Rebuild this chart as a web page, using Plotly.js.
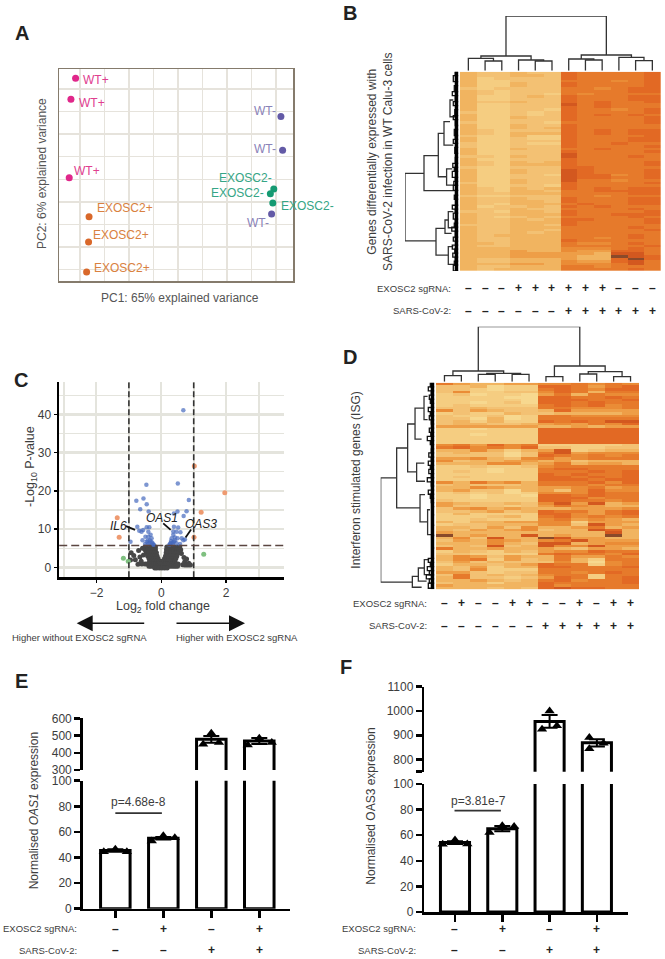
<!DOCTYPE html>
<html>
<head>
<meta charset="utf-8">
<script src="https://cdn.plot.ly/plotly-3.0.1.min.js"></script>
<style>body{margin:0;background:#fff}</style>
</head>
<body>
<div id="fig" style="width:665px;height:959px"></div>
<script>
var W = 665, H = 959;
var FONT = 'Liberation Sans, Arial, sans-serif';
var TXT = '#3c3c3c';

// Panel A, PCA scores (grid units, the original has no tick labels)
var wtPlusX = [-4.18, -4.37, -4.44];
var wtPlusY = [4.48, 3.55, 0.07];
var koPlusX = [-3.63, -3.65, -3.73];
var koPlusY = [-1.66, -2.78, -4.11];
var wtMinusX = [4.2, 4.27, 3.82];
var wtMinusY = [2.78, 1.29, -1.54];
var koMinusX = [3.91, 3.77, 3.87];
var koMinusY = [-0.43, -0.64, -1.05];
var pcaLabels = ['WT+', 'WT+', 'WT+', 'EXOSC2+', 'EXOSC2+', 'EXOSC2+', 'WT-', 'WT-', 'WT-', 'EXOSC2-', 'EXOSC2-', 'EXOSC2-'];
var pcaLabelX = [-3.95, -4.11, -4.32, -3.40, -3.55, -3.52, 3.02, 3.03, 2.72, 1.61, 1.28, 4.14];
var pcaLabelY = [4.41, 3.37, 0.35, -1.26, -2.46, -3.92, 3.04, 1.33, -1.95, 0.04, -0.61, -1.19];
var pcaLabelColor = ['#e0408f', '#e0408f', '#e0408f', '#d98140', '#d98140', '#d98140', '#8a82b8', '#8a82b8', '#8a82b8', '#35a585', '#35a585', '#35a585'];

// Panel B, expression levels (0 light .. 9 dark)
var heatB = [
  [3,2,2,3,2,2,7,6,6,6,6,7],[3,2,2,3,3,2,7,6,6,6,6,7],[3,1,2,2,2,2,7,6,6,6,6,7],[3,1,1,2,2,2,6,6,6,5,6,7],
  [3,1,1,3,2,2,7,6,6,6,6,7],[3,1,1,3,2,2,7,6,6,6,6,7],[2,1,2,2,2,2,6,6,5,6,7,7],[3,2,1,2,2,2,6,6,6,6,7,7],
  [3,2,1,2,2,1,6,5,6,6,6,6],[3,1,1,2,3,2,7,6,6,6,7,7],[3,1,1,2,2,2,7,6,6,6,7,7],[3,2,2,3,2,2,7,6,7,6,6,7],
  [3,1,1,2,2,2,8,6,7,6,6,6],[3,1,1,2,2,2,7,6,7,6,6,6],[3,1,1,2,2,1,7,6,6,5,6,7],[2,1,1,2,1,2,7,6,6,6,6,7],
  [3,1,1,2,1,2,7,6,7,6,7,6],[3,1,1,3,2,2,7,6,6,6,6,7],[3,1,1,2,2,2,7,6,6,6,6,7],[2,1,1,2,2,1,6,6,6,6,6,7],
  [3,1,1,3,2,2,7,6,6,6,6,6],[3,1,1,3,2,3,7,6,6,6,6,6],[3,2,1,2,2,2,7,6,7,6,7,7],[3,2,1,3,3,3,7,6,7,6,7,7],
  [2,1,1,3,1,1,7,6,6,6,6,7],[3,1,1,2,1,1,7,6,6,6,7,7],[3,1,1,2,2,2,7,6,6,6,7,7],[2,1,1,2,1,1,7,6,6,7,6,6],
  [2,1,1,2,2,2,7,6,6,6,6,7],[3,1,1,3,2,2,6,6,7,6,6,6],[3,1,1,2,2,2,7,6,6,6,6,7],[3,1,1,2,2,2,8,6,6,6,6,6],
  [2,2,1,3,2,2,8,6,6,6,7,6],[3,1,1,2,2,2,7,6,6,6,6,6],[3,2,1,3,2,3,7,6,6,6,6,7],[3,2,1,3,3,3,7,6,6,6,6,7],
  [2,1,1,2,2,2,7,7,6,6,6,6],[3,1,1,3,2,2,8,7,6,6,6,7],[3,1,1,3,2,2,8,7,6,6,6,7],[3,1,1,2,2,1,8,7,7,5,6,7],
  [3,1,1,2,2,2,8,7,7,6,6,7],[3,1,1,3,2,2,8,6,6,5,6,6],[2,1,1,3,2,2,7,6,6,6,6,7],[3,1,1,2,2,1,7,6,6,6,6,6],
  [3,2,1,3,2,3,7,6,7,6,7,7],[3,2,1,3,3,2,6,6,7,7,7,7],[3,2,2,3,3,3,6,6,6,6,7,7],[2,1,1,2,2,2,6,6,5,6,6,6],
  [3,2,2,3,2,2,7,6,6,6,7,7],[3,2,2,3,3,2,7,6,6,6,7,7],[3,2,1,3,3,3,6,7,6,6,7,7],[3,1,2,2,3,2,7,6,7,6,6,6],
  [3,2,2,3,2,2,6,6,6,6,7,6],[2,2,1,3,3,2,7,6,6,6,6,7],[3,2,2,3,3,3,7,6,6,7,7,7],[3,2,1,2,3,2,6,6,6,6,7,6],
  [3,2,2,3,2,3,7,7,6,6,6,7],[3,2,2,3,3,3,7,6,6,6,6,7],[2,2,2,3,3,2,7,6,6,6,6,6],[3,2,2,3,3,3,6,6,6,6,7,6],
  [3,2,2,3,3,2,6,6,6,6,6,7],[3,2,2,3,2,3,6,6,6,6,6,6],[3,2,3,3,3,3,6,6,6,6,7,6],[3,2,2,3,3,3,6,6,5,6,7,6],
  [3,2,2,3,3,3,7,6,6,6,6,6],[3,3,2,3,3,3,6,5,5,6,7,6],[3,2,2,3,3,3,6,6,6,6,6,7],[3,3,3,3,3,3,5,5,5,6,7,6],
  [3,3,3,4,3,3,5,4,4,7,7,6],[3,3,3,4,4,4,4,4,3,8,8,6],[3,3,3,4,4,4,4,3,3,9,8,7],[3,2,2,3,3,3,4,3,3,7,9,7],
  [3,2,2,3,3,3,5,4,4,7,8,6],[3,3,3,4,4,3,5,5,5,6,8,6],[3,2,2,3,3,3,6,6,5,6,6,6],[3,2,3,3,3,3,6,6,6,6,7,6]
];
var bSgRna = ['–','–','–','+','+','+','+','+','+','–','–','–'];
var bVirus = ['–','–','–','–','–','–','+','+','+','+','+','+'];
// dendrogram merges: first child, second child, first height, second height, merge height
var bTopTree = [
  [1,2,0,0,9.7],[0,1.5,0,9.7,12.3],[4,5,0,0,9.7],[3,4.5,0,9.7,10.7],[0.75,3.75,12.3,10.7,14.7],
  [7,8,0,0,10.7],[6,7.5,0,10.7,11.7],[10,11,0,0,10],[9,10.5,0,10,13.3],[6.75,9.75,11.7,13.3,15.7],
  [2.25,8.25,14.7,15.7,54.7]
];
var bLeftTree = [
  [51,84.9,34.3,22.3,53.3],[42.1,59.7,20,0,34.3],[30.9,52.7,14.3,11.7,20],[25.1,36.8,8.3,5,14.3],
  [14.2,22.6,5,3.3,8.3],[48.8,56.9,6,4,11.7],[78.6,92,13.3,10,22.3],[74.4,81.1,10,6.7,13.3],
  [70.2,78.3,5,3,10],[87.8,96.7,5,4,10]
];
var bTwigs = [
  [0,2,3],[2,5,5],[5,7,2.5],[7,10,4],[10,12,6],[12,15,3],[15,17,5],[17,19,2.5],[19,22,3.5],[22,24,5],[24,27,3],
  [27,29,2],[29,32,4],[32,34,3],[34,36,5],[36,38,2.5],[38,41,3.5],[41,43,2],[43,46,3],[46,48,5.5],[48,50,4],
  [50,53,6],[53,55,3],[55,57,4.5],[57,59.5,5],[59.5,62,2],[62,64,4],[64,67,2.5],[67,69,6],[69,71,3],[71,74,5],
  [74,76,3],[76,78,4],[78,80,6.5],[80,83,3],[83,85,5],[85,87,2.5],[87,89,6],[89,91,3.5],[91,93,5.5],[93,95,3],
  [95,97,4],[97,100,5]
];

// Panel C, volcano points
var greyX = [-.5,-.42,-.34,-.26,-.18,.17,.25,.33,.41,.49,.57,
  -.5,-.42,-.34,-.26,-.18,.16,.24,.32,.4,.48,.56,
  -.46,-.38,-.3,-.22,-.15,.15,.22,.3,.38,.46,.53,
  -.42,-.34,-.27,-.2,-.13,.13,.2,.27,.34,.41,.48,
  -.38,-.31,-.24,-.17,-.1,.1,.17,.24,.31,.38,.45,
  -.36,-.29,-.22,-.15,-.08,-.01,.07,.14,.21,.28,.35,.42,
  -.5,-.44,-.38,-.31,-.24,-.17,-.1,-.03,.04,.11,.18,.25,.32,.39,.46,.52,
  -.38,-.32,-.25,-.18,-.11,-.04,.03,.1,.17,.24,.31,.38,.44,.5,
  -.2,-.14,-.06,.02,.1,.18,
  -.93,-.8,-.85,-.95,-.66,-.55,-.7,-.62,.7,.72,.78,.66,.72,.78,.84,.9,.85,.62,.6,-.58,-.6,-.72];
var greyY = [5.3,5.3,5.3,5.3,5.3,5.3,5.3,5.3,5.3,5.3,5.3,
  4.6,4.6,4.6,4.6,4.6,4.6,4.6,4.6,4.6,4.6,4.6,
  3.8,3.8,3.8,3.8,3.8,3.8,3.8,3.8,3.8,3.8,3.8,
  3,3,3,3,3,3,3,3,3,3,3,
  2.3,2.3,2.3,2.3,2.3,2.3,2.3,2.3,2.3,2.3,2.3,
  1.6,1.6,1.6,1.6,1.6,1.6,1.6,1.6,1.6,1.6,1.6,1.6,
  .9,.9,.9,.9,.9,.9,.9,.9,.9,.9,.9,.9,.9,.9,.9,.9,
  .3,.3,.3,.3,.3,.3,.3,.3,.3,.3,.3,.3,.3,.3,
  -.2,-.2,-.2,-.2,-.2,-.2,
  3.8,2,3.1,1.9,2.7,3.2,4.4,1.6,2.6,1.4,2.2,.7,.6,.6,.6,.6,1.1,3.6,4.6,5,.9,.8];
var blueX = [.68,.51,-.46,-.55,-.77,-.45,-.65,-.39,.85,.5,.39,.78,.69,-.74,-.68,-.61,-.95,-.45,-.37,-.56,-.4,
  -.49,-.4,-.33,-.58,-.45,-.35,-.27,-.4,-.5,-.3,-.23,.39,.52,.59,.37,.47,.63,.5,.68,.37,.32,.42,.29,.39,.47,.58,.35,.25,.73,
  -.42,-.36,-.3,-.25,.3,.35,.27,.42];
var blueY = [41.1,21.9,21.6,18,17.4,16.5,15.2,14.6,17.6,14.6,14.1,14.7,13.4,10.6,9.6,9.3,6.7,10.5,10.5,9.8,9.3,
  8,8,8.5,7.1,6.7,7,6.3,6.1,6.1,7.6,5.9,10.6,10.4,9.2,9.4,9.3,7.6,7.6,7.1,8.5,7.6,7.8,6.4,6.7,6.3,6.1,6.1,5.9,7.3,
  7,6.4,6.6,6,6.9,6.5,6.1,7];
var orangeX = [1.02, 1.96, 1.23, -1.36, -1.3, 1.01];
var orangeY = [26.5, 19.5, 14.4, 13, 7.9, 7.9];
var greenX = [-1.17, -1.02, 1.31];
var greenY = [2.4, 1.6, 3.4];
var foldCut = [-1, 1];
var pCut = 5.7;
var geneNames = ['IL6', 'OAS1', 'OAS3'];
var geneX = [-1.33, 0.03, 1.21];
var geneY = [10.8, 12.8, 11.4];
var leaderX = [-1.09, -0.81, null, 0.06, 0.29, null, 0.92, 0.75];
var leaderY = [10.8, 9.8, null, 11.5, 9.8, null, 9.9, 7.8];

// Panel D
var heatD = [
  [6,4,3,3,4,4,5,5,6,5,6,5],[2,2,3,0,1,1,7,7,6,4,6,7],[2,2,1,0,1,1,6,7,6,5,7,7],[2,5,1,1,2,2,5,7,6,3,6,6],
  [1,2,0,1,1,0,4,6,3,6,5,5],[1,1,1,1,0,0,7,7,6,6,7,6],[1,1,1,1,1,0,7,7,7,6,6,7],[1,1,0,1,2,0,7,7,6,7,6,6],
  [1,2,1,1,1,1,6,7,6,7,5,6],[2,2,3,2,2,2,6,6,5,5,5,6],[5,2,4,3,2,2,3,7,4,4,4,4],[1,2,1,1,3,2,2,3,3,3,3,4],
  [2,1,1,2,0,1,6,6,5,5,5,5],[2,2,0,3,0,1,6,6,6,6,6,6],[2,3,1,3,1,1,7,6,7,6,8,8],[2,3,3,2,2,3,4,5,4,6,5,7],
  [4,4,4,4,4,4,3,3,4,3,4,4],[1,1,0,1,1,1,7,7,7,7,7,7],[1,1,1,1,1,1,7,7,7,7,7,7],[1,1,0,1,1,1,7,7,7,7,7,7],
  [1,1,1,1,1,1,7,7,7,7,7,7],[1,1,1,1,1,1,7,7,7,7,7,7],[1,1,1,1,1,1,7,7,7,7,7,7],[5,6,4,7,5,6,1,1,1,1,1,2],
  [6,7,5,6,5,7,2,2,1,1,2,2],[3,3,5,3,1,3,4,8,1,2,3,3],[2,3,2,2,0,2,6,8,4,5,5,5],[2,2,2,2,0,2,7,6,5,6,5,6],
  [4,4,5,3,2,5,6,4,5,6,6,6],[5,2,3,3,4,4,3,4,2,3,3,3],[3,3,3,5,5,3,4,6,3,4,4,3],[1,1,2,1,1,2,5,6,6,6,6,6],
  [1,1,1,0,1,1,6,7,7,6,6,6],[1,2,1,0,1,1,6,6,6,7,6,7],[1,1,1,1,1,1,7,6,7,6,6,7],[1,2,1,1,1,1,7,7,6,7,6,7],
  [1,1,1,1,1,1,7,7,7,6,7,7],[5,3,6,4,5,3,6,6,6,7,5,7],[2,3,2,2,2,3,6,6,6,5,6,6],[3,3,5,4,3,3,4,4,5,6,4,5],
  [3,4,2,2,0,3,4,2,5,7,5,5],[1,2,1,2,0,1,5,5,5,7,6,6],[1,1,0,1,1,0,7,7,6,7,6,6],[1,1,0,1,1,1,7,7,7,5,6,6],
  [2,1,1,1,1,1,7,7,6,6,5,6],[4,3,2,2,3,2,5,8,4,8,3,4],[4,2,2,2,1,2,4,6,5,4,3,3],[2,4,5,3,4,3,3,3,4,4,4,5],
  [2,2,3,4,2,3,7,6,6,4,6,7],[1,3,1,1,1,1,7,7,5,4,6,7],[1,1,1,2,3,1,6,7,5,6,5,6],[1,1,2,1,1,1,5,6,4,5,4,3],
  [3,1,3,3,4,4,5,5,1,4,4,4],[1,2,2,3,3,3,5,5,2,8,4,3],[3,3,2,4,2,5,3,3,4,6,3,4],[3,2,4,3,4,5,2,3,3,8,7,3],
  [4,3,3,3,3,3,3,3,3,3,8,3],[9,3,4,3,3,8,3,4,3,3,9,3],[3,5,2,8,3,3,9,8,4,4,3,3],[2,4,3,5,4,3,5,6,8,4,4,4],
  [3,3,3,5,3,2,8,8,3,4,5,5],[2,3,2,8,2,3,8,5,5,8,4,4],[6,3,3,4,3,3,4,3,2,4,4,3],[1,3,2,1,3,2,4,5,5,7,6,6],
  [2,2,1,1,1,1,6,7,6,6,5,7],[3,5,4,2,4,3,3,6,4,4,6,5],[3,5,6,1,4,2,3,6,3,1,6,6],[2,4,2,3,2,2,2,5,3,0,5,6],
  [1,3,3,2,3,4,7,6,6,1,5,6],[3,2,4,1,3,3,7,7,6,6,6,7],[3,2,5,1,1,1,6,6,6,6,6,6],[4,4,2,1,2,2,6,6,5,6,7,6],
  [2,6,2,3,2,3,5,6,6,1,6,6],[3,6,2,2,1,2,4,7,6,1,6,7],[3,3,4,3,2,3,6,7,5,6,6,7],[2,3,3,1,3,3,7,6,6,6,6,7],
  [4,3,3,3,3,3,7,5,6,6,6,6],[3,3,3,2,3,2,7,8,7,7,6,6]
];
var dSgRna = ['–','+','–','–','+','+','–','–','+','–','+','+'];
var dVirus = ['–','–','–','–','–','–','+','+','+','+','+','+'];
var dTopTree = [
  [0,1,0,0,6],[2,3,0,0,7.3],[4,5,0,0,7.3],[2.5,4.5,7.3,7.3,8.3],[0.5,3.5,6,8.3,10.7],
  [6,7,0,0,5],[8,9,0,0,7.7],[10,11,0,0,5],[8.5,10.5,7.7,5,10],[6.5,9.5,5,10,15.7],[2,8,10.7,15.7,55]
];
var dLeftTree = [
  [46.1,96.5,37.7,22,53.7],[31.6,60.6,26.7,14.3,37.7],[20,43.2,19.3,17.7,26.7],[12.3,27.3,10.3,12.7,19.3],
  [6.6,17.9,6.7,6.7,10.3],[38.9,47.7,10,9.3,17.7],[54.2,67.4,9.3,6.7,14.3],[61.5,73.5,4.3,0,6.7],
  [93.7,99,16,12.7,22],[89.7,96,10,7.7,16],[85.6,92.9,5,5,10]
];
var dTwigs = [
  [0,2,4],[2,4,6],[4,6,3],[6,8,5],[8,10,4],[10,12,2.5],[12,14,6],[14,16,4],[16,18,5],[18,20,3],[20,22,2.5],
  [22,24,5],[24,26,3.5],[26,28,7],[28,30,4],[30,32,2],[32,34,3],[34,36,5.5],[36,38,3],[38,40,6],[40,42,4],
  [42,44,5.5],[44,46,3],[46,48,7],[48,50,3],[50,52,2],[52,54,6],[54,56,4],[56,58,3],[58,60,2],[60,64,2.5],
  [64,69,2],[69,74,2],[74,80,1.5],[80,85,1.5],[85,87,6],[87,89,4],[89,91,7],[91,93,5],[93,95,8],[95,97,5],[97,99.5,6]
];

// Panels E and F, normalised expression
var barCats = [0, 1, 2, 3];
var eMeans = [45.5, 55, 478, 468];
var eErr = [1, 1, 20, 17];
var ePointX = [-.24,0,.24, .76,1,1.24, 1.83,2,2.16, 2.76,3,3.26];
var ePointY = [44.5,46.4,44.5, 52.9,57,55.5, 449,513,459, 445,484,459];
var eSigX = [0, 0.97];
var eSigY = [74.7, 74.7];
var fMeans = [54.2, 65.1, 957, 869];
var fErr = [1, 2, 26, 15];
var fPointX = [-.26,0,.26, .73,1,1.25, 1.84,2,2.155, 2.84,2.84,3.14];
var fPointY = [52.9,56.3,53.1, 62.2,67.4,66.7, 925,1000,939, 891,845,867];
var fSigX = [-0.01, 0.97];
var fSigY = [79.2, 79.2];
var barSgRna = ['–', '+', '–', '+'];
var barVirus = ['–', '–', '+', '+'];

function domX(a, b) { return [a / W, b / W]; }
function domY(top, bottom) { return [1 - bottom / H, 1 - top / H]; }

function note(text, px, py, opts) {
  var a = {
    text: text, xref: 'paper', yref: 'paper', x: px / W, y: 1 - py / H, showarrow: false,
    font: {family: FONT, size: 12, color: TXT}, xanchor: 'center', yanchor: 'middle'
  };
  for (var k in opts) { a[k] = opts[k]; }
  return a;
}

// turns a merge list into one broken line
function treeLines(tree) {
  var p = [], h = [];
  tree.forEach(function (m) {
    p.push(m[0], m[0], m[1], m[1], null);
    h.push(m[2], m[4], m[4], m[3], null);
  });
  return {p: p, h: h};
}

var colours = [[0, '#f7d88f'], [0.11, '#f5cd81'], [0.22, '#f3c173'], [0.33, '#f1b561'], [0.44, '#ee9f48'],
  [0.56, '#ea8b35'], [0.67, '#e6792b'], [0.78, '#e26924'], [0.89, '#d3581f'], [1, '#8a4a2a']];

var data = [];
var dendroLine = {color: '#333', width: 1.3};

// A
function pcaTrace(x, y, c) {
  return {x: x, y: y, mode: 'markers', type: 'scatter', marker: {color: c, size: 7}, xaxis: 'x', yaxis: 'y'};
}
data.push(pcaTrace(wtPlusX, wtPlusY, '#e0278a'));
data.push(pcaTrace(koPlusX, koPlusY, '#d9682a'));
data.push(pcaTrace(wtMinusX, wtMinusY, '#635aa6'));
data.push(pcaTrace(koMinusX, koMinusY, '#159a72'));

// B and D heatmaps with trees
function heatPanel(z, n, topTree, leftTree, twigs) {
  data.push({z: z, type: 'heatmap', colorscale: colours, zmin: 0, zmax: 9, showscale: false, xaxis: 'x' + n, yaxis: 'y' + n});
  var t = treeLines(topTree);
  data.push({x: t.p, y: t.h, mode: 'lines', type: 'scatter', line: dendroLine, xaxis: 'x' + (n + 1), yaxis: 'y' + (n + 1)});
  var l = treeLines(leftTree);
  data.push({x: l.h, y: l.p, mode: 'lines', type: 'scatter', line: dendroLine, xaxis: 'x' + (n + 2), yaxis: 'y' + (n + 2)});
  var s = treeLines(twigs.map(function (g) { return [g[0], g[1], 0, 0, g[2]]; }));
  data.push({x: s.h, y: s.p, mode: 'lines', type: 'scatter', line: {color: '#111', width: 1.3}, xaxis: 'x' + (n + 2), yaxis: 'y' + (n + 2)});
  data.push({x: [1.6, 1.6], y: [0, 100], mode: 'lines', type: 'scatter', line: {color: '#000', width: 4}, xaxis: 'x' + (n + 2), yaxis: 'y' + (n + 2)});
}
heatPanel(heatB, 2, bTopTree, bLeftTree, bTwigs);

// C
var cx = {xaxis: 'x5', yaxis: 'y5', type: 'scatter'};
function volc(o) { for (var k in cx) { o[k] = cx[k]; } data.push(o); }
volc({x: greyX, y: greyY, mode: 'markers', marker: {color: '#474747', size: 5}});
volc({x: blueX, y: blueY, mode: 'markers', marker: {color: 'rgba(70,105,190,0.7)', size: 4.5}});
volc({x: orangeX, y: orangeY, mode: 'markers', marker: {color: '#ee9a70', size: 5}});
volc({x: greenX, y: greenY, mode: 'markers', marker: {color: '#7fc080', size: 5}});
volc({x: [foldCut[0], foldCut[0], null, foldCut[1], foldCut[1]], y: [-2.6, 48.4, null, -2.6, 48.4], mode: 'lines', line: {color: '#333', width: 1.6, dash: '6px,3px'}});
volc({x: [-3.15, 3.78], y: [pCut, pCut], mode: 'lines', line: {color: '#5a4540', width: 1.6, dash: '8px,4px'}});
volc({x: leaderX, y: leaderY, mode: 'lines', line: {color: '#111', width: 1.8}});

heatPanel(heatD, 6, dTopTree, dLeftTree, dTwigs);

// E and F, each drawn twice for the broken axis
function barPanel(means, errs, px, py, sx, sy, low, up) {
  [low, up].forEach(function (n) {
    data.push({
      x: barCats, y: means, type: 'bar', width: 0.615, xaxis: 'x' + n, yaxis: 'y' + n,
      marker: {color: '#fff', line: {color: '#000', width: 3}},
      error_y: {type: 'data', array: errs, visible: true, color: '#000', thickness: 2, width: 8}
    });
    data.push({
      x: px, y: py, mode: 'markers', type: 'scatter', xaxis: 'x' + n, yaxis: 'y' + n,
      marker: {symbol: 'triangle-up', color: '#000', size: 9}
    });
  });
  data.push({x: sx, y: sy, mode: 'lines', type: 'scatter', line: {color: '#333', width: 1.6}, xaxis: 'x' + low, yaxis: 'y' + low});
}
barPanel(eMeans, eErr, ePointX, ePointY, eSigX, eSigY, 9, 10);
barPanel(fMeans, fErr, fPointX, fPointY, fSigX, fSigY, 11, 12);

var layout = {
  width: W, height: H, margin: {l: 0, r: 0, t: 0, b: 0}, paper_bgcolor: '#fff', plot_bgcolor: 'rgba(0,0,0,0)',
  showlegend: false, font: {family: FONT, color: TXT, size: 12}, bargap: 0, annotations: []
};

function hidden(domain, range, anchor) {
  return {domain: domain, range: range, anchor: anchor, visible: false, fixedrange: true};
}

// A axes
var gridA = '#e6e3dc';
layout.xaxis = {
  domain: domX(59, 293), range: [-4.857, 4.694], anchor: 'y', tick0: -4, dtick: 1, showticklabels: false, ticks: '',
  gridcolor: gridA, gridwidth: 1.5, zeroline: false, showline: true, linecolor: '#857b6c', linewidth: 1.5, mirror: true
};
layout.yaxis = {
  domain: domY(69, 281), range: [-4.51, 4.89], anchor: 'x', tick0: 0, dtick: 1, showticklabels: false, ticks: '',
  gridcolor: gridA, gridwidth: 1.5, zeroline: false, showline: true, linecolor: '#857b6c', linewidth: 1.5, mirror: true
};
var greyFont = {family: FONT, size: 12, color: '#555'};
layout.annotations.push(note('PC1: 65% explained variance', 180, 298, {font: greyFont}));
layout.annotations.push(note('PC2: 6% explained variance', 42, 174, {textangle: -90, font: greyFont}));
pcaLabels.forEach(function (t, i) {
  layout.annotations.push({
    text: t, xref: 'x', yref: 'y', x: pcaLabelX[i], y: pcaLabelY[i], xanchor: 'left', yanchor: 'middle',
    showarrow: false, font: {family: FONT, size: 12, color: pcaLabelColor[i]}
  });
});

// B axes
layout.xaxis2 = hidden(domX(460, 660.7), [-0.5, 11.5], 'y2');
layout.yaxis2 = hidden(domY(71.7, 271), [heatB.length - 0.5, -0.5], 'x2');
layout.xaxis3 = hidden(domX(460, 660.7), [-0.5, 11.5], 'y3');
layout.yaxis3 = hidden(domY(16, 70.7), [0, 54.7], 'x3');
layout.xaxis4 = hidden(domX(405, 458.3), [53.3, 0], 'y4');
layout.yaxis4 = hidden(domY(71.7, 271), [100, 0], 'x4');

// C axes
var gridC = '#e4e4dd';
layout.xaxis5 = {
  domain: domX(59, 284), range: [-3.157, 3.787], anchor: 'y5', tick0: 0, dtick: 2, zeroline: false,
  gridcolor: gridC, gridwidth: 2, minor: {dtick: 1, showgrid: true, gridcolor: gridC, gridwidth: 2},
  showline: true, linecolor: '#000', linewidth: 2.5, ticks: 'outside', ticklen: 3, tickwidth: 1.5, tickcolor: '#000',
  tickfont: {size: 12, color: TXT}
};
layout.yaxis5 = {
  domain: domY(382.3, 577.3), range: [-2.6, 48.4], anchor: 'x5', tick0: 0, dtick: 10, zeroline: false,
  gridcolor: gridC, gridwidth: 2.5, minor: {dtick: 5, showgrid: true, gridcolor: gridC, gridwidth: 1.2},
  showline: true, linecolor: '#000', linewidth: 2.5, ticks: 'outside', ticklen: 3, tickwidth: 1.5, tickcolor: '#000',
  tickfont: {size: 12, color: TXT}
};
layout.annotations.push(note('Log<sub>2</sub> fold change', 162.7, 607, {font: {family: FONT, size: 12.5, color: TXT}}));
layout.annotations.push(note('-Log<sub>10</sub> P-value', 31, 467, {textangle: -90, font: {family: FONT, size: 12.5, color: TXT}}));
geneNames.forEach(function (g, i) {
  layout.annotations.push({
    text: '<i>' + g + '</i>', xref: 'x5', yref: 'y5', x: geneX[i], y: geneY[i], showarrow: false,
    font: {family: FONT, size: 12, color: '#222'}
  });
});
layout.annotations.push({
  xref: 'paper', yref: 'paper', axref: 'pixel', ayref: 'pixel', x: 76.7 / W, y: 1 - 623.3 / H, ax: 69, ay: 0, text: '',
  showarrow: true, arrowhead: 2, arrowsize: 2, arrowwidth: 1.6, arrowcolor: '#111'
});
layout.annotations.push({
  xref: 'paper', yref: 'paper', axref: 'pixel', ayref: 'pixel', x: 245 / W, y: 1 - 623.3 / H, ax: -70, ay: 0, text: '',
  showarrow: true, arrowhead: 2, arrowsize: 2, arrowwidth: 1.6, arrowcolor: '#111'
});
layout.annotations.push(note('Higher without EXOSC2 sgRNA', 79.3, 637, {font: {family: FONT, size: 9.5, color: TXT}}));
layout.annotations.push(note('Higher with EXOSC2 sgRNA', 236.8, 637, {font: {family: FONT, size: 9.5, color: TXT}}));

// D axes
layout.xaxis6 = hidden(domX(436, 639), [-0.5, 11.5], 'y6');
layout.yaxis6 = hidden(domY(382.7, 589.3), [heatD.length - 0.5, -0.5], 'x6');
layout.xaxis7 = hidden(domX(436, 639), [-0.5, 11.5], 'y7');
layout.yaxis7 = hidden(domY(326.7, 381.7), [0, 55], 'x7');
layout.xaxis8 = hidden(domX(380.7, 434.3), [53.7, 0], 'y8');
layout.yaxis8 = hidden(domY(382.7, 589.3), [100, 0], 'x8');

// E and F axes
function barAxes(n, xDom, xRange, yDom, yRange, vals, text, isLow) {
  var xa = {
    domain: xDom, range: xRange, anchor: 'y' + n, fixedrange: true, showgrid: false, zeroline: false,
    showticklabels: false
  };
  if (isLow) {
    xa.tickmode = 'array'; xa.tickvals = barCats; xa.ticks = 'outside'; xa.ticklen = 7; xa.tickwidth = 2.5; xa.tickcolor = '#000';
    xa.showline = true; xa.linecolor = '#000'; xa.linewidth = 2.5;
  } else {
    xa.visible = false;
  }
  layout['xaxis' + n] = xa;
  layout['yaxis' + n] = {
    domain: yDom, range: yRange, anchor: 'x' + n, fixedrange: true, showgrid: false, zeroline: false,
    tickmode: 'array', tickvals: vals, ticktext: text, ticks: 'outside', ticklen: 6, tickwidth: 2.5, tickcolor: '#000',
    showline: true, linecolor: '#000', linewidth: 2.5, tickfont: {size: 12, color: TXT}
  };
}
var lowTicks = [0, 20, 40, 60, 80, 100];
var lowText = ['0', '20', '40', '60', '80', '100'];
barAxes(9, domX(82.7, 290), [-0.68, 3.64], domY(780.7, 908.7), [0, 100], lowTicks, lowText, true);
barAxes(10, domX(82.7, 290), [-0.68, 3.64], domY(718.3, 770), [300, 600], [300, 400, 500, 600], ['300', '400', '500', '600'], false);
barAxes(11, domX(424.3, 628.3), [-0.649, 3.664], domY(784, 912), [0, 100], lowTicks, lowText, true);
barAxes(12, domX(424.3, 628.3), [-0.649, 3.664], domY(686.7, 771.7), [750, 1100], [750, 800, 900, 1000, 1100], ['', '800', '900', '1000', '1100'], false);

layout.annotations.push({text: 'p=4.68e-8', xref: 'x9', yref: 'y9', x: 0.48, y: 83.6, showarrow: false, font: {family: FONT, size: 12, color: TXT}});
layout.annotations.push({text: 'p=3.81e-7', xref: 'x11', yref: 'y11', x: 0.49, y: 86.5, showarrow: false, font: {family: FONT, size: 12, color: TXT}});
layout.annotations.push(note('Normalised <i>OAS1</i> expression', 34.3, 811, {textangle: -90}));
layout.annotations.push(note('Normalised OAS3 expression', 371, 806.7, {textangle: -90}));

// sign rows under heatmaps and bars
function signRow(signs, ax, py, size) {
  signs.forEach(function (s, i) {
    layout.annotations.push({
      text: '<b>' + s + '</b>', xref: ax, yref: 'paper', x: i, y: 1 - py / H, showarrow: false,
      xanchor: 'center', yanchor: 'middle', font: {family: FONT, size: size, color: '#222'}
    });
  });
}
function rowLabels(px, y1, y2) {
  var f = {family: FONT, size: 9.5, color: TXT};
  layout.annotations.push(note('EXOSC2 sgRNA:', px, y1, {xanchor: 'right', font: f}));
  layout.annotations.push(note('SARS-CoV-2:', px, y2, {xanchor: 'right', font: f}));
}
signRow(bSgRna, 'x2', 288.3, 12); signRow(bVirus, 'x2', 310.7, 12); rowLabels(452.7, 288.3, 310.7);
signRow(dSgRna, 'x6', 603.3, 12); signRow(dVirus, 'x6', 625.7, 12); rowLabels(429.3, 603.3, 625.7);
signRow(barSgRna, 'x9', 929.3, 12); signRow(barVirus, 'x9', 950, 12); rowLabels(79, 928.3, 950);
signRow(barSgRna, 'x11', 929.3, 12); signRow(barVirus, 'x11', 950, 12); rowLabels(418.3, 928.7, 950);

layout.annotations.push(note('Genes differentially expressed with<br>SARS-CoV-2 infection in WT Calu-3 cells', 380, 162, {textangle: -90}));
layout.annotations.push(note('Interferon stimulated genes (ISG)', 355.7, 480, {textangle: -90}));

// panel letters
var letters = ['A', 'B', 'C', 'D', 'E', 'F'];
var letterX = [21.5, 349.5, 20.5, 349.5, 21, 346.5];
var letterY = [33, 13, 380, 357, 681, 667];
letters.forEach(function (t, i) {
  layout.annotations.push(note('<b>' + t + '</b>', letterX[i], letterY[i], {font: {family: FONT, size: 20, color: '#222'}}));
});

Plotly.newPlot('fig', data, layout, {displayModeBar: false, staticPlot: true});
</script>
</body>
</html>
